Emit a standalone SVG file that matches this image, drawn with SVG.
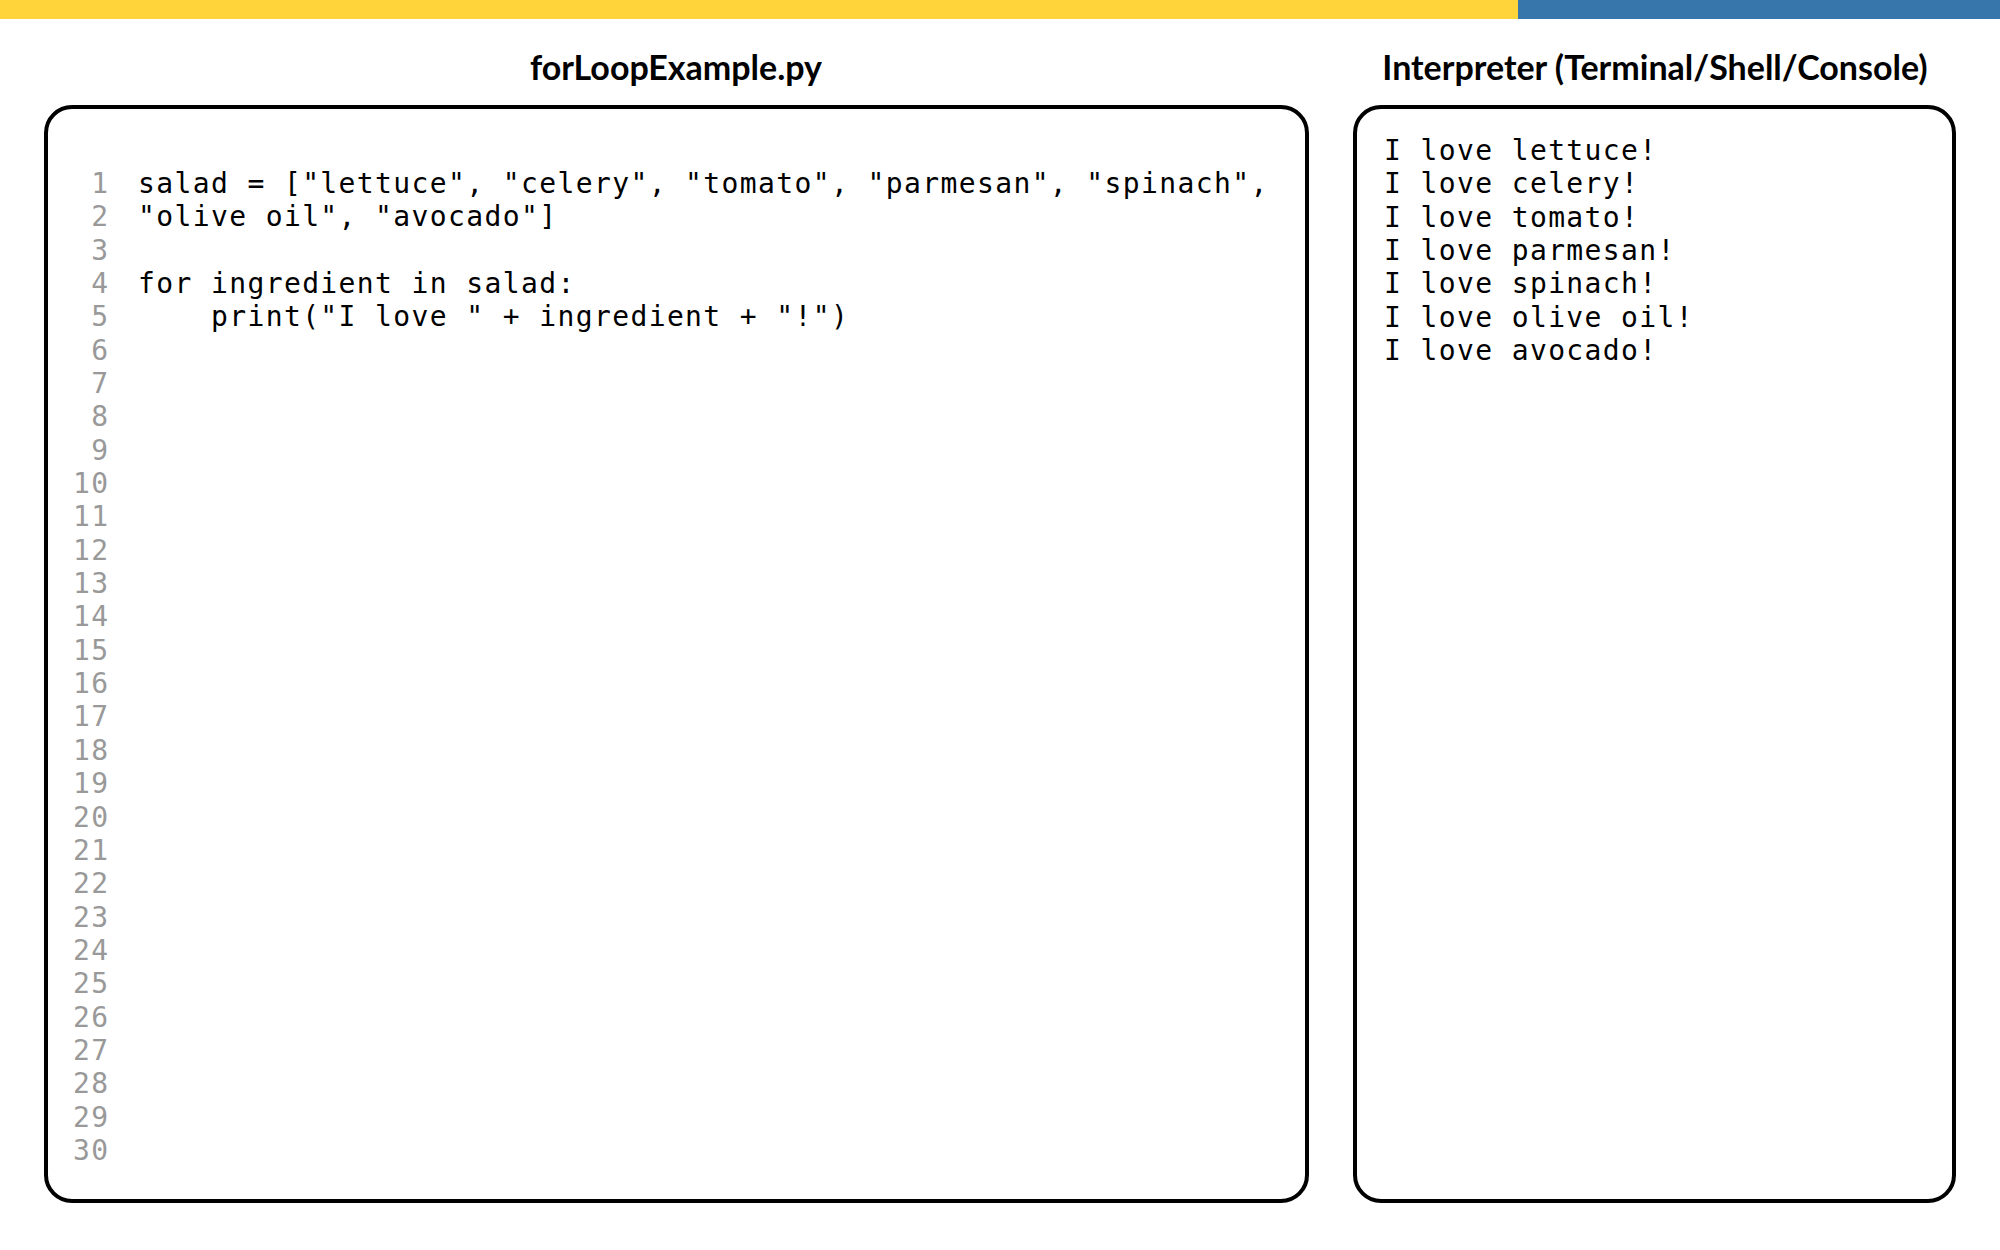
<svg xmlns="http://www.w3.org/2000/svg" width="2000" height="1250" viewBox="0 0 2000 1250">
<style>
.title{font-family:Lato,"Noto Sans",sans-serif;font-weight:bold;font-size:34px;fill:#000;text-anchor:middle}
.box{fill:#fff;stroke:#000;stroke-width:4}
.code{font-family:"DejaVu Sans Mono","Liberation Mono",monospace;font-size:28px;letter-spacing:1.38px;fill:#000;white-space:pre}
.ln{font-family:"DejaVu Sans Mono","Liberation Mono",monospace;font-size:28px;letter-spacing:1.38px;fill:#999}
</style>
<rect width="2000" height="1250" fill="#fff"/>
<g id="topbar">
<rect x="0" y="0" width="1518" height="19" fill="#FFD43B"/>
<rect x="1518" y="0" width="482" height="19" fill="#3776AB"/>
</g>
<g id="editor">
<text class="title" x="676" y="80">forLoopExample.py</text>
<rect class="box" x="46" y="107" width="1261" height="1094" rx="26"/>
<g class="ln">
<text x="91.2" y="193">1</text>
<text x="91.2" y="226.3">2</text>
<text x="91.2" y="259.7">3</text>
<text x="91.2" y="293">4</text>
<text x="91.2" y="326.4">5</text>
<text x="91.2" y="359.7">6</text>
<text x="91.2" y="393">7</text>
<text x="91.2" y="426.4">8</text>
<text x="91.2" y="459.7">9</text>
<text x="73" y="493.1">10</text>
<text x="73" y="526.4">11</text>
<text x="73" y="559.7">12</text>
<text x="73" y="593.1">13</text>
<text x="73" y="626.4">14</text>
<text x="73" y="659.8">15</text>
<text x="73" y="693.1">16</text>
<text x="73" y="726.4">17</text>
<text x="73" y="759.8">18</text>
<text x="73" y="793.1">19</text>
<text x="73" y="826.5">20</text>
<text x="73" y="859.8">21</text>
<text x="73" y="893.1">22</text>
<text x="73" y="926.5">23</text>
<text x="73" y="959.8">24</text>
<text x="73" y="993.2">25</text>
<text x="73" y="1026.5">26</text>
<text x="73" y="1059.8">27</text>
<text x="73" y="1093.2">28</text>
<text x="73" y="1126.5">29</text>
<text x="73" y="1159.9">30</text>
</g>
<g class="code">
<text x="138" y="193">salad = ["lettuce", "celery", "tomato", "parmesan", "spinach",</text>
<text x="138" y="226.3">"olive oil", "avocado"]</text>
<text x="138" y="293">for ingredient in salad:</text>
<text x="138" y="326.4" xml:space="preserve">    print("I love " + ingredient + "!")</text>
</g>
</g>
<g id="interpreter">
<text class="title" x="1655" y="80">Interpreter (Terminal/Shell/Console)</text>
<rect class="box" x="1355" y="107" width="599" height="1094" rx="26"/>
<g class="code">
<text x="1384" y="160">I love lettuce!</text>
<text x="1384" y="193.3">I love celery!</text>
<text x="1384" y="226.6">I love tomato!</text>
<text x="1384" y="259.9">I love parmesan!</text>
<text x="1384" y="293.2">I love spinach!</text>
<text x="1384" y="326.5">I love olive oil!</text>
<text x="1384" y="359.8">I love avocado!</text>
</g>
</g>
</svg>
